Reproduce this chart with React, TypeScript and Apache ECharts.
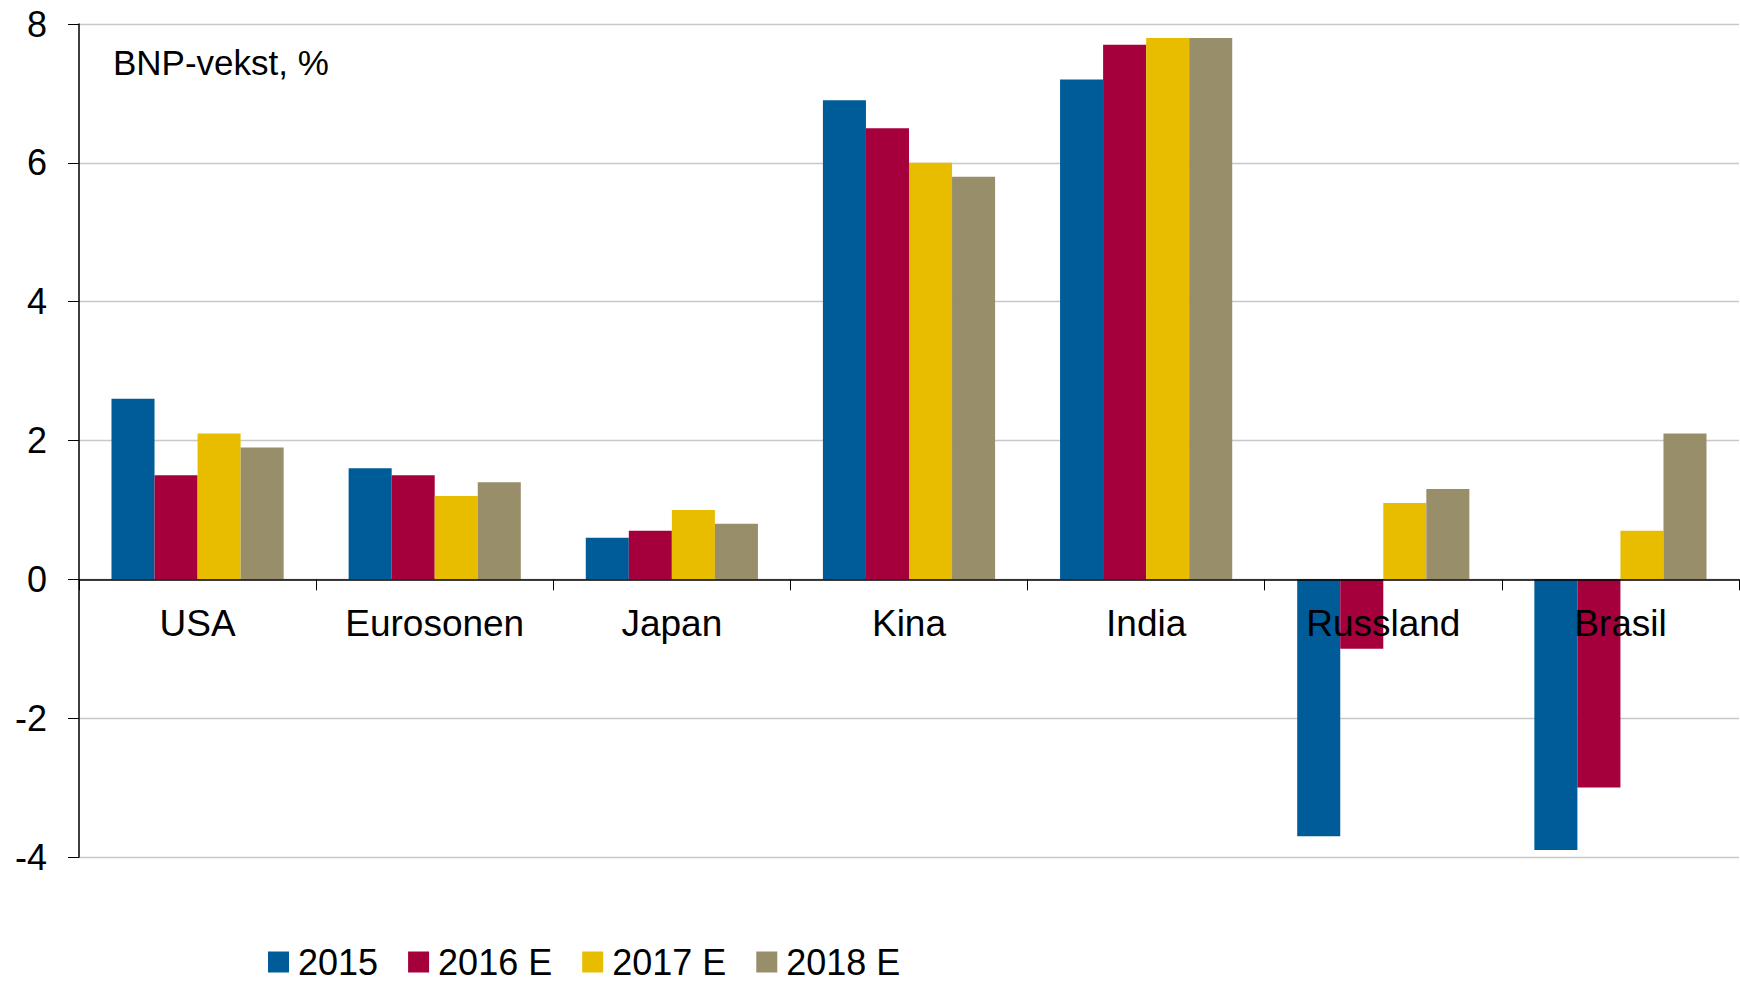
import React, { useEffect, useRef } from "react";
import * as echarts from "echarts";

const categories = ["USA", "Eurosonen", "Japan", "Kina", "India", "Russland", "Brasil"];
const seriesNames = ["2015", "2016 E", "2017 E", "2018 E"];
const v2015 = [2.6, 1.6, 0.6, 6.9, 7.2, -3.7, -3.9];
const v2016 = [1.5, 1.5, 0.7, 6.5, 7.7, -1.0, -3.0];
const v2017 = [2.1, 1.2, 1.0, 6.0, 7.8, 1.1, 0.7];
const v2018 = [1.9, 1.4, 0.8, 5.8, 7.8, 1.3, 2.1];
const colors = ["#005c99", "#a6003c", "#e8bd00", "#998e6a"];
const titleText = "BNP-vekst, %";

const FONT = "Liberation Sans, Arial, sans-serif";

export default function App() {
  const ref = useRef<HTMLDivElement>(null);
  useEffect(() => {
    document.body.style.margin = "0";
    const chart = echarts.init(ref.current!, null, { renderer: "svg" });
    const data = [v2015, v2016, v2017, v2018];
    chart.setOption({
      animation: false,
      backgroundColor: "#ffffff",
      title: {
        text: titleText,
        left: 108,
        top: 40,
        textStyle: { fontFamily: FONT, fontSize: 35, fontWeight: "normal", color: "#000" },
      },
      legend: {
        left: 268,
        top: 944,
        padding: 0,
        itemWidth: 21,
        itemHeight: 21,
        itemGap: 30,
        icon: "rect",
        textStyle: {
          fontFamily: FONT,
          fontSize: 36,
          lineHeight: 34,
          color: "#000",
          padding: [0, 0, 0, 4],
        },
        data: seriesNames,
      },
      grid: { left: 79, right: 1, top: 24, bottom: 127, containLabel: false },
      xAxis: {
        type: "category",
        data: categories,
        axisLine: { onZero: true, lineStyle: { color: "#000", width: 1.5 } },
        axisTick: { show: true, length: 11, lineStyle: { color: "#000" } },
        axisLabel: { fontFamily: FONT, fontSize: 37, color: "#000", margin: -252 },
        splitLine: { show: false },
        z: 10,
      },
      yAxis: {
        type: "value",
        min: -4,
        max: 8,
        interval: 2,
        axisLine: { show: true, lineStyle: { color: "#000", width: 1.5 } },
        axisTick: { show: true, length: 11, lineStyle: { color: "#000" } },
        axisLabel: { fontFamily: FONT, fontSize: 36, color: "#000", margin: 32 },
        splitLine: { show: true, lineStyle: { color: "#c8c8c8", width: 1.3 } },
      },
      series: seriesNames.map((name, i) => ({
        name,
        type: "bar",
        data: data[i],
        barGap: "0%",
        barCategoryGap: "27.4%",
        itemStyle: { color: colors[i] },
      })),
    });
    return () => chart.dispose();
  }, []);
  return (
    <div
      ref={ref}
      style={{ position: "fixed", left: 0, top: 0, width: 1740, height: 984 }}
    />
  );
}
